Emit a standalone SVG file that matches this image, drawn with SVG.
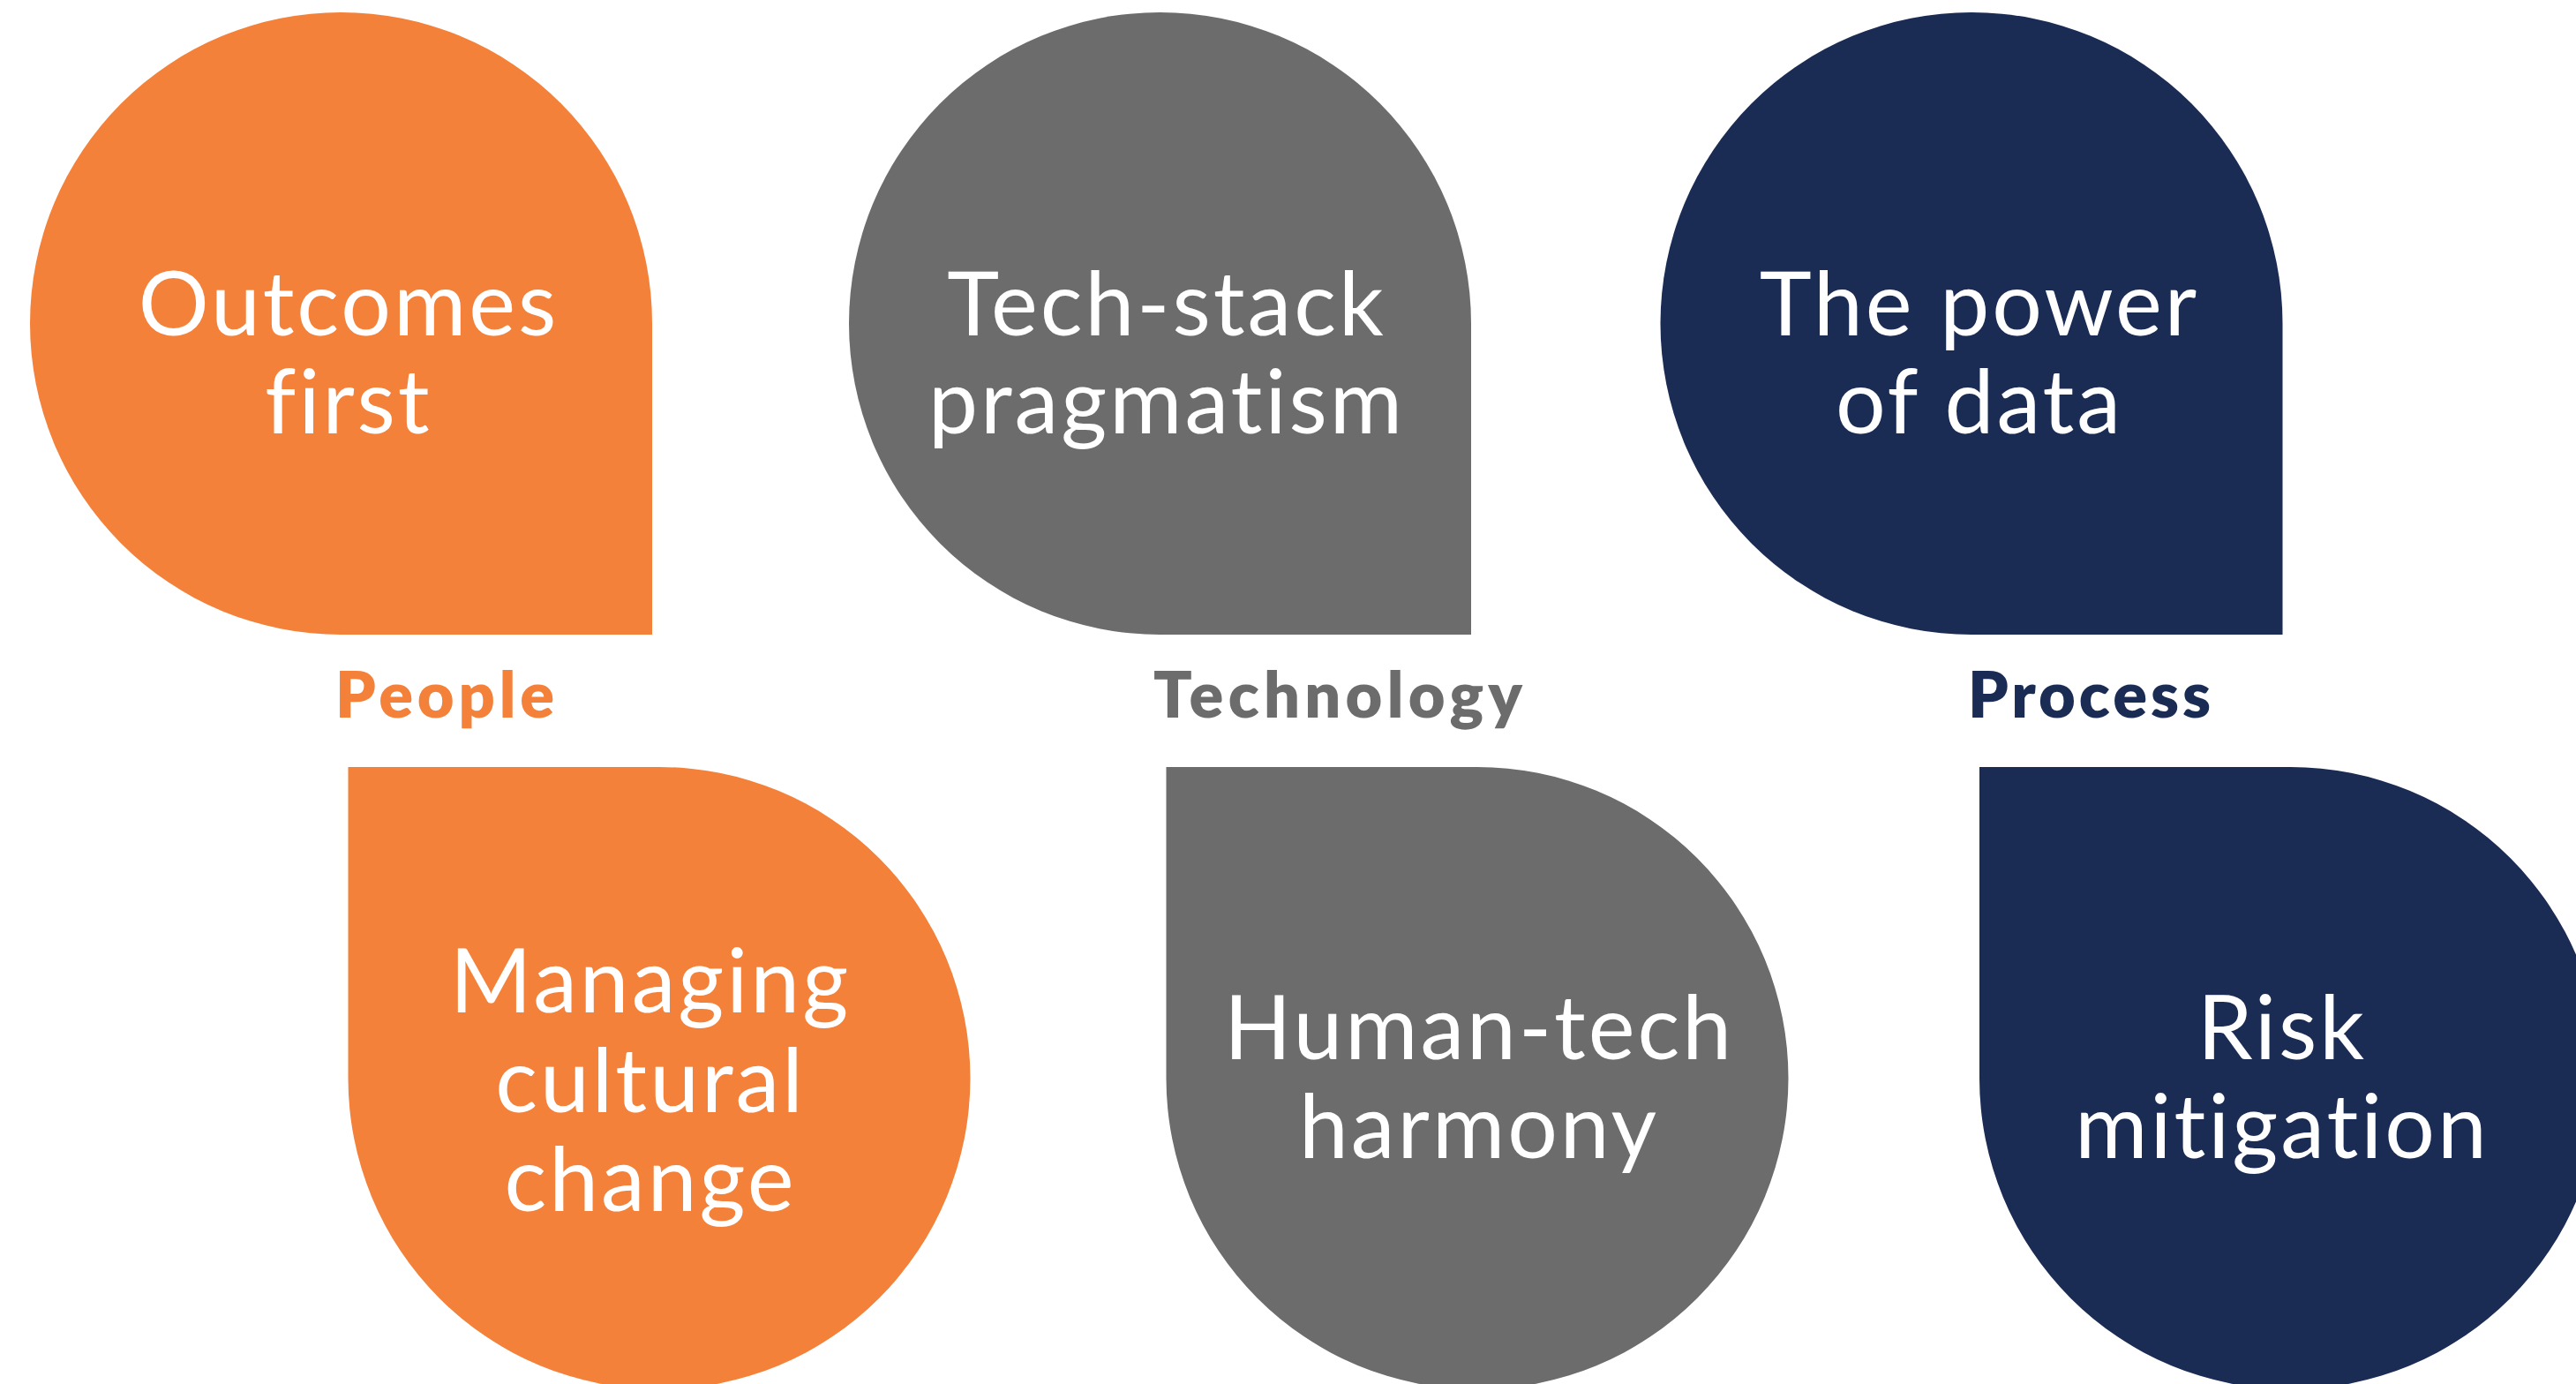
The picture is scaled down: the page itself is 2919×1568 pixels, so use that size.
<svg xmlns="http://www.w3.org/2000/svg" width="2919" height="1568" viewBox="0 0 2919 1568">
  <style>
    .orange { fill: #F4813A; }
    .gray { fill: #6C6C6C; }
    .navy { fill: #1A2B54; }
    .inner { font-family: "Lato", "Liberation Sans", sans-serif; font-weight: 400; font-size: 100px; fill: #FFFFFF; text-anchor: middle; letter-spacing: 3px; }
    .pillar { font-family: "Lato", "Liberation Sans", sans-serif; font-weight: 800; font-size: 72px; letter-spacing: 3px; }
  </style>
  <rect width="2919" height="1568" fill="#FFFFFF"/>

  <!-- top row: drops with square bottom-right corner -->
  <g id="outcomes-first">
    <path class="orange" d="M386.5,719 A352.5,352.5 0 1 1 739,366.5 L739,719 Z"/>
    <text class="inner" x="395" y="380">Outcomes</text>
    <text class="inner" x="395" y="491">first</text>
  </g>
  <g id="tech-stack-pragmatism">
    <path class="gray" d="M1314.5,719 A352.5,352.5 0 1 1 1667,366.5 L1667,719 Z"/>
    <text class="inner" x="1322" y="380">Tech-stack</text>
    <text class="inner" x="1322" y="491">pragmatism</text>
  </g>
  <g id="power-of-data">
    <path class="navy" d="M2234,719 A352.5,352.5 0 1 1 2586.5,366.5 L2586.5,719 Z"/>
    <text class="inner" x="2243" y="380">The power</text>
    <text class="inner" x="2243" y="491">of data</text>
  </g>

  <!-- pillar labels -->
  <g id="label-people">
    <text class="pillar orange" x="380" y="813" textLength="251" lengthAdjust="spacing">People</text>
  </g>
  <g id="label-technology">
    <text class="pillar gray" x="1307" y="813" textLength="421" lengthAdjust="spacing">Technology</text>
  </g>
  <g id="label-process">
    <text class="pillar navy" x="2230" y="813" textLength="278" lengthAdjust="spacing">Process</text>
  </g>

  <!-- bottom row: drops with square top-left corner -->
  <g id="managing-cultural-change">
    <path class="orange" d="M394.5,869 L747,869 A352.5,352.5 0 1 1 394.5,1221.5 Z"/>
    <text class="inner" x="737" y="1147">Managing</text>
    <text class="inner" x="737" y="1260">cultural</text>
    <text class="inner" x="737" y="1372">change</text>
  </g>
  <g id="human-tech-harmony">
    <path class="gray" d="M1321.5,869 L1674,869 A352.5,352.5 0 1 1 1321.5,1221.5 Z"/>
    <text class="inner" x="1676" y="1200">Human-tech</text>
    <text class="inner" x="1676" y="1312">harmony</text>
  </g>
  <g id="risk-mitigation">
    <path class="navy" d="M2243,869 L2595.5,869 A352.5,352.5 0 1 1 2243,1221.5 Z"/>
    <text class="inner" x="2586" y="1200">Risk</text>
    <text class="inner" x="2586" y="1312">mitigation</text>
  </g>

  <g id="connectors"/>
</svg>
